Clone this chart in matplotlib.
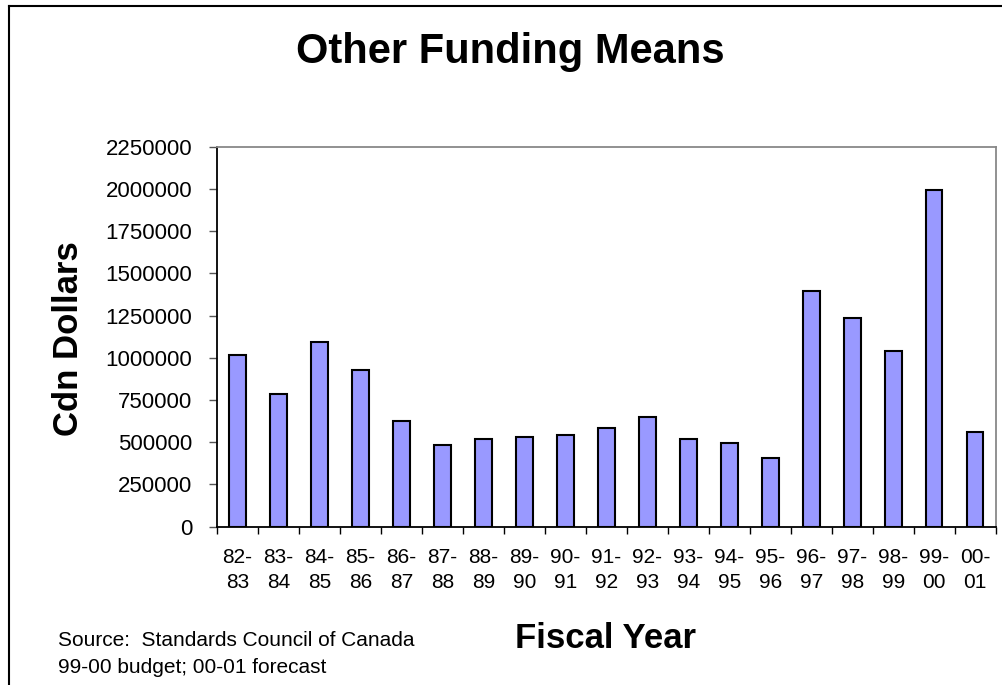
import numpy as np
import matplotlib
matplotlib.use('Agg')
import matplotlib.pyplot as plt
from matplotlib.lines import Line2D

plt.rcParams['font.family'] = ['Liberation Sans', 'DejaVu Sans']

years = ['82-\n83', '83-\n84', '84-\n85', '85-\n86', '86-\n87', '87-\n88',
         '88-\n89', '89-\n90', '90-\n91', '91-\n92', '92-\n93', '93-\n94',
         '94-\n95', '95-\n96', '96-\n97', '97-\n98', '98-\n99', '99-\n00',
         '00-\n01']
funding = [1015000, 785000, 1095000, 930000, 628000, 485000, 517000,
           531000, 541000, 584000, 651000, 517000, 496000, 407000,
           1393000, 1237000, 1040000, 1994000, 562000]
yticks = np.arange(0, 2250001, 250000)

fig = plt.figure(figsize=(10.03, 6.85), dpi=100)
ax = fig.add_axes([0.2164, 0.2311, 0.7764, 0.5547])

x = np.arange(len(years))
ax.bar(x, funding, 0.4, color='#9999FF', edgecolor='black', linewidth=1.5)

ax.set_xlim(-0.5, len(years) - 0.5)
ax.set_ylim(0, 2250000)
ax.set_yticks(yticks)
ax.set_yticklabels([str(v) for v in yticks], fontsize=16)

# boundary ticks without labels, labels centred under bars
ax.set_xticks(np.arange(len(years) + 1) - 0.5)
ax.set_xticklabels([])
ax.set_xticks(x, minor=True)
ax.set_xticklabels(years, minor=True, fontsize=15, linespacing=1.45)
ax.tick_params(axis='x', which='major', length=5, width=1, direction='out')
ax.tick_params(axis='x', which='minor', length=0, pad=15)
ax.tick_params(axis='y', length=6, width=1, pad=12, color='#555555')

for side in ['top', 'right']:
    ax.spines[side].set_color('#888888')
    ax.spines[side].set_linewidth(1.3)
for side in ['left', 'bottom']:
    ax.spines[side].set_color('black')
    ax.spines[side].set_linewidth(1.3)

fig.text(0.509, 0.908, 'Other Funding Means', ha='center', va='baseline',
         fontsize=30, fontweight='bold')
fig.text(0.068, 0.505, 'Cdn Dollars', ha='center', va='center',
         rotation=90, fontsize=25, fontweight='bold')
fig.text(0.604, 0.054, 'Fiscal Year', ha='center', va='baseline',
         fontsize=25, fontweight='bold')
fig.text(0.058, 0.057, 'Source:  Standards Council of Canada',
         ha='left', va='baseline', fontsize=15)
fig.text(0.058, 0.0175, '99-00 budget; 00-01 forecast',
         ha='left', va='baseline', fontsize=15)

# outer frame (left and top only visible)
fig.add_artist(Line2D([0.009, 0.009], [0, 0.991], color='black', lw=1.5))
fig.add_artist(Line2D([0.009, 1.0], [0.991, 0.991], color='black', lw=1.5))

fig.savefig('out.png', dpi=100)
